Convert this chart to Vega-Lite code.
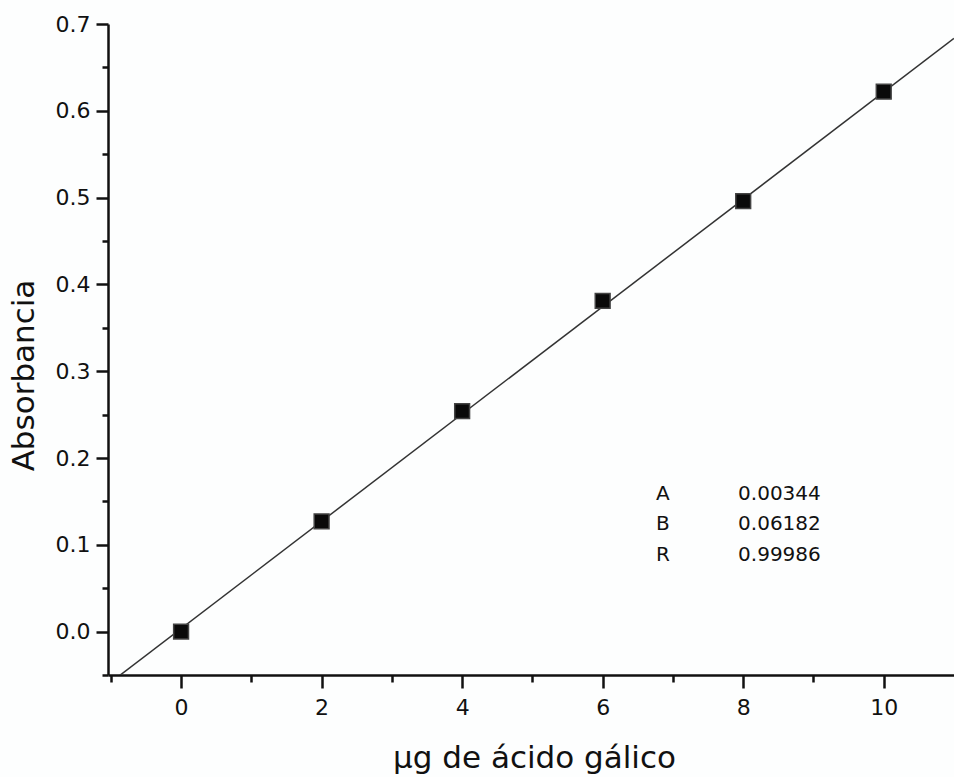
{
  "$schema": "https://vega.github.io/schema/vega-lite/v6.json",
  "width": 846,
  "height": 651,
  "autosize": {"type": "none"},
  "padding": {"left": 108, "top": 24, "right": 0, "bottom": 102},
  "background": "#fdfefe",
  "config": {
    "view": {"stroke": null},
    "font": "DejaVu Sans",
    "axis": {
      "grid": false,
      "domainColor": "#111",
      "domainWidth": 2.5,
      "tickColor": "#111",
      "tickWidth": 2.5,
      "labelFont": "DejaVu Sans",
      "labelColor": "#111",
      "labelFontSize": 22,
      "titleFont": "DejaVu Sans",
      "titleFontWeight": "normal",
      "titleColor": "#111",
      "titleFontSize": 31
    }
  },
  "datasets": {
    "puntos": [
      {"ug": 0, "abs": 0.000},
      {"ug": 2, "abs": 0.127},
      {"ug": 4, "abs": 0.254},
      {"ug": 6, "abs": 0.381},
      {"ug": 8, "abs": 0.496},
      {"ug": 10, "abs": 0.622}
    ],
    "ajuste": [
      {"ug": -1.04, "abs": -0.06085},
      {"ug": 11, "abs": 0.68346}
    ],
    "parametros": [
      {"ug": 6.76, "abs": 0.152, "nombre": "A", "valor": "0.00344"},
      {"ug": 6.76, "abs": 0.1165, "nombre": "B", "valor": "0.06182"},
      {"ug": 6.76, "abs": 0.081, "nombre": "R", "valor": "0.99986"}
    ]
  },
  "resolve": {"axis": {"x": "independent", "y": "independent"}},
  "layer": [
    {
      "data": {"name": "ajuste"},
      "mark": {"type": "line", "clip": true, "color": "#333", "strokeWidth": 1.5},
      "encoding": {
        "x": {
          "field": "ug", "type": "quantitative",
          "scale": {"domain": [-1.04, 11], "nice": false, "zero": false},
          "axis": {
            "orient": "bottom",
            "title": "µg de ácido gálico",
            "values": [0, 2, 4, 6, 8, 10],
            "format": "d",
            "tickSize": 13,
            "labelPadding": 9,
            "titleBaseline": "alphabetic",
            "titleY": 92,
            "titleX": 426
          }
        },
        "y": {
          "field": "abs", "type": "quantitative",
          "scale": {"domain": [-0.05, 0.7], "nice": false, "zero": false},
          "axis": {
            "orient": "left",
            "title": "Absorbancia",
            "values": [0, 0.1, 0.2, 0.3, 0.4, 0.5, 0.6, 0.7],
            "format": ".1f",
            "tickSize": 12,
            "labelPadding": 6,
            "titleAngle": -90,
            "titleAlign": "center",
            "titleBaseline": "alphabetic",
            "titleX": -75,
            "titleY": 351
          }
        }
      }
    },
    {
      "data": {"name": "puntos"},
      "mark": {"type": "point", "shape": "square", "filled": true, "size": 220, "color": "#0a0a0a", "stroke": "#444", "strokeWidth": 1.5, "opacity": 1},
      "encoding": {
        "x": {
          "field": "ug", "type": "quantitative",
          "axis": {
            "orient": "bottom",
            "title": null,
            "values": [-1, 1, 3, 5, 7, 9],
            "labels": false,
            "domain": false,
            "tickSize": 7
          }
        },
        "y": {
          "field": "abs", "type": "quantitative",
          "axis": {
            "orient": "left",
            "title": null,
            "values": [-0.05, 0.05, 0.15, 0.25, 0.35, 0.45, 0.55, 0.65],
            "labels": false,
            "domain": false,
            "tickSize": 6
          }
        }
      }
    },
    {
      "data": {"name": "parametros"},
      "mark": {"type": "text", "align": "left", "baseline": "alphabetic", "fontSize": 20, "color": "#111", "font": "DejaVu Sans"},
      "encoding": {
        "x": {"field": "ug", "type": "quantitative", "axis": null},
        "y": {"field": "abs", "type": "quantitative", "axis": null},
        "text": {"field": "nombre"}
      }
    },
    {
      "data": {"name": "parametros"},
      "mark": {"type": "text", "align": "left", "baseline": "alphabetic", "fontSize": 20, "color": "#111", "font": "DejaVu Sans", "dx": 82},
      "encoding": {
        "x": {"field": "ug", "type": "quantitative", "axis": null},
        "y": {"field": "abs", "type": "quantitative", "axis": null},
        "text": {"field": "valor"}
      }
    }
  ]
}
